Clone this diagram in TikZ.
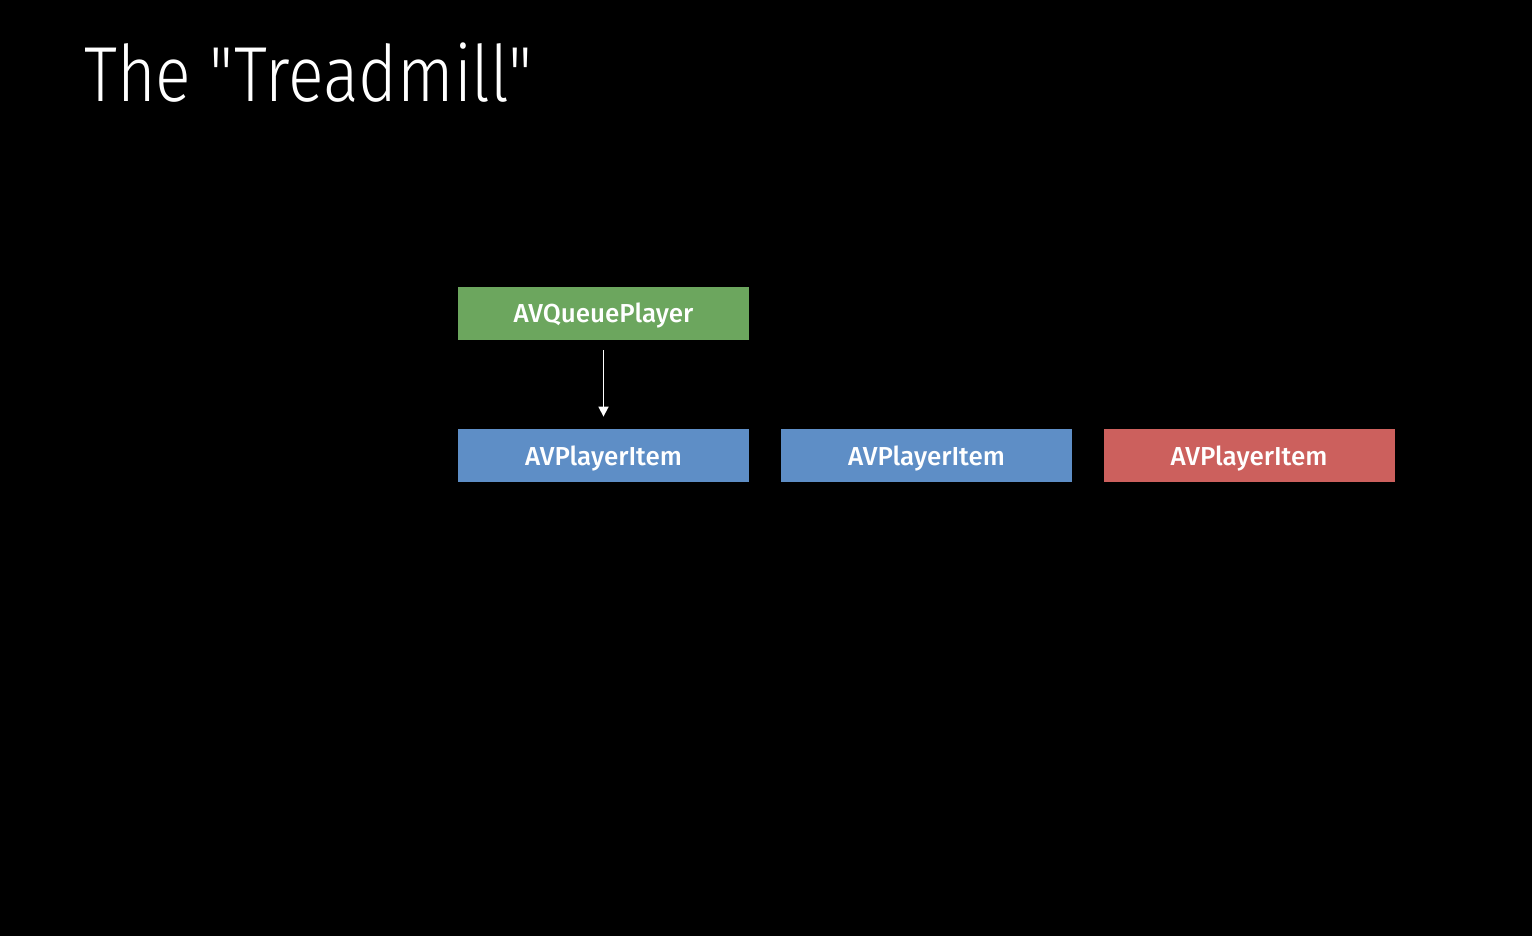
\documentclass[tikz,border=0pt]{standalone}
\usepackage{fontspec}
\setmainfont{Fira Sans}
\newfontfamily\titlefont{Fira Sans Light}
\newfontfamily\boxfont{Fira Sans Medium}
\usetikzlibrary{arrows.meta}
\definecolor{boxgreen}{RGB}{108,166,94}
\definecolor{boxblue}{RGB}{94,142,198}
\definecolor{boxred}{RGB}{204,96,93}
\tikzset{
  px/.style={x=0.5pt,y=-0.5pt},
  itembox/.style={minimum width=145.5pt,minimum height=26.5pt,inner sep=0pt,text height=10pt,text depth=0.5pt,text=white,font=\boxfont\fontsize{13pt}{15pt}\selectfont},
  conn/.style={white,line width=0.8pt,-{Triangle[width=5pt,length=5pt]}},
}
\begin{document}
\begin{tikzpicture}[px]
\fill[black] (0,0) rectangle (1532,936);
\useasboundingbox (0,0) rectangle (1532,936);
\node[anchor=base west,inner sep=0pt,text=white,font=\titlefont\fontsize{39pt}{46pt}\selectfont] (title) at (84,102) {\scalebox{0.85}[1]{The "Treadmill"}};
\node[itembox,fill=boxgreen] (player) at (603.5,313.5) {AVQueuePlayer};
\node[itembox,fill=boxblue] (item1) at (603.5,455.5) {AVPlayerItem};
\node[itembox,fill=boxblue] (item2) at (926.5,455.5) {AVPlayerItem};
\node[itembox,fill=boxred] (item3) at (1249,455.5) {AVPlayerItem};
\draw[conn] ([yshift=-5pt]player.south) -- ([yshift=6pt]item1.north);
\end{tikzpicture}
\end{document}
